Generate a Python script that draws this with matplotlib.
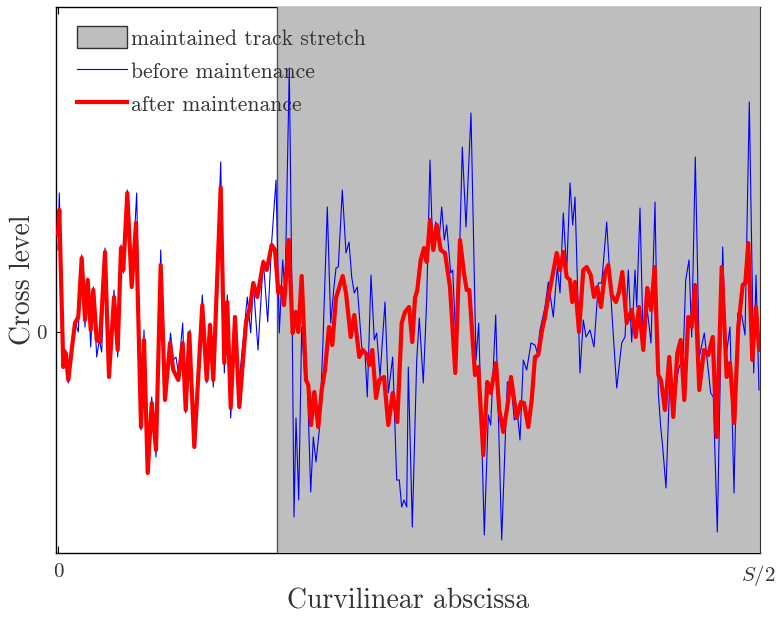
import matplotlib
matplotlib.use("Agg")
import matplotlib.pyplot as plt
from matplotlib.patches import Patch
from matplotlib.lines import Line2D

plt.rcParams['font.family'] = ['cmr10', 'DejaVu Serif']
plt.rcParams['mathtext.fontset'] = 'cm'
plt.rcParams['axes.unicode_minus'] = False
plt.rcParams['axes.formatter.use_mathtext'] = True

# abscissa (0 .. 700 = S/2) and cross level (arbitrary units)
before_x = [0, 1.3, 3, 5.3, 7.7, 10.3, 13.7, 17, 20.3, 23.7, 27, 29.7, 32.7, 35.3, 38.7, 41.3, 43.7, 47, 51, 56,
            59.7, 63, 65.3, 69.3, 73.7, 78.7, 83, 86, 89.7, 93.7, 98, 102.7, 107, 112.5, 115.3, 118, 120.3,
            124.7, 127.7, 132, 136.3, 144.3, 148.7, 152, 155.3, 162.7, 166.3, 169.3, 172.7, 177, 181.3,
            189.3, 192.7, 195.3, 200, 205.3, 209.7, 213.7, 218, 221.3, 224.7, 227, 231.3, 234, 236, 238,
            240.7, 243.7, 247, 249.3, 252.7, 255.3, 258, 261.3, 264.7, 269.3, 272.7, 276, 278, 280.3, 284.3,
            288, 291, 293.7, 296.3, 299.3, 303.7, 307, 309.3, 313, 316.3, 318.7, 322, 327, 330.3, 334.7,
            338.7, 341.3, 343.7, 346, 348.7, 350.3, 354.3, 358.7, 361.3, 365.3, 368.7, 372, 374.7, 377.7,
            381, 383.7, 386.3, 388.7, 392.7, 394.7, 398.7, 404.3, 408, 413, 418, 420.7, 426.3, 430.3, 432.7,
            437.7, 443.7, 449.3, 453, 456.3, 459.3, 462, 465.3, 468.7, 473, 477, 479.3, 482, 487, 490.3,
            495.3, 499.3, 502, 505.3, 508.7, 512, 514.7, 517, 522, 525.3, 528, 532, 536, 540.3, 543.7, 548.7,
            553.7, 558.7, 563.7, 567, 570.3, 573.7, 577, 578.7, 582, 585.3, 589.3, 593, 597, 600.3, 602.7,
            604.7, 608, 612, 615.3, 620.3, 622.7, 625.3, 627.7, 631, 633.7, 637.3, 641.3, 646.3, 652.7,
            655.3, 659.3, 664.7, 668, 672, 676, 679.7, 683.7, 687, 691.3, 695.7, 698, 701]
before_y = [8.2, 13.9, 7.2, -1.8, -1.8, -5.1, -1.8, 1.0, 0, 7.7, 0.5, 5.4, -1.5, 4.5, -2.5, -0.8, -2.0, 8.4, -4.5, 4.2,
            -2.5, 8.7, 5.9, 14.2, 4.5, 13.9, -9.8, 0.2, -14.1, -6.5, -12.5, 8.2, -6.8, -0.1, -2.8, -2.5, -4.1,
            0.9, -8.1, 0.2, -11.5, 3.7, -5.1, 0.9, -5.5, 17.0, -4.1, 3.7, -8.6, 0.9, -4.8,
            3.5, -0.1, 4.9, -1.8, 7.2, 1.0, 9.0, 15.2, -0.1, 7.2, 3.9, 26.4, 3.2, -18.5, -8.6,
            -16.8, 0.5, -4.8, -4.8, -16.0, -10.5, -13.0, -9.8, -1.8, 12.5, 0.9, 4.5, 6.4, 6.5, 14.2,
            7.9, 9.0, 5.5, 3.9, 4.5, -1.5, -2.1, -6.5, 5.7, -0.8, -0.1, -4.5, 3.0, -6.1, -2.5,
            -14.8, -14.8, -17.5, -16.8, -17.5, -3.5, -19.5, -2.8, 1.4, -5.1, 3.2, 17.2, 8.2, 11.0,
            9.2, 12.5, 9.2, 10.7, 5.9, 6.2, -2.8, 18.5, 10.5, 21.9, -2.8, 0.9, -20.3, -8.3, -9.3,
            1.7, -20.8, -5.0, -5.1, -8.8, -8.1, -10.8, -2.8, -3.8, -1.1, -1.3, -2.1, 0.2, 2.5, 5.0,
            1.5, 6.5, 3.9, 11.9, 6.0, 14.9, 10.7, 13.5, -4.1, 1.2, -0.5, 0.2, -1.5, 4.9, 4.9, 11.0,
            2.2, -5.6, -1.1, -0.5, 6.2, -1.0, 6.2, 2.5, 12.4, -1.8, 2.2, -1.1, 13.0, -6.1, -9.5,
            -11.5, -15.6, -4.1, -8.1, -3.8, -3.1, -2.1, 5.2, 7.2, -0.5, 17.5, -2.5, -0.1, -6.1,
            -6.5, -20.0, 8.5, -2.5, 0.5, -16.1, 1.9, 1.7, -0.3, 23.0, -4.1, 5.7, -5.8]

after_x = [0, 1.3, 5.3, 7.7, 10.3, 13.7, 17, 20.3, 23.7, 27, 29.7, 32.7, 35.3, 38.7, 42, 47, 51, 56, 59.7, 63,
           65.3, 69.3, 73.7, 78, 83, 86, 89.7, 93.7, 98, 102.7, 107, 112, 115.3, 120.3, 124.7, 127.7, 131.3,
           136.3, 144.3, 148.7, 152, 155.3, 162.7, 166.3, 169.3, 172.7, 177, 181.3, 188, 192, 195.3, 199.3,
           205.3, 208.7, 213.7, 217, 220.3, 223, 226, 230.7, 234.7, 237.7, 240.3, 243.7, 248, 250.3, 253,
           256.3, 260.3, 263.7, 267, 271, 274.3, 278, 281.3, 284.7, 288, 292.7, 296.3, 301.3, 304.7, 309.3,
           311.3, 314.3, 318, 321.3, 326, 330.3, 334.7, 339.3, 343.7, 347, 351, 354.3, 357, 359.3, 362.7,
           366, 368.7, 372, 375.3, 378.7, 382.7, 387, 392, 397.3, 402, 406, 408.7, 411.3, 417, 420.3, 425.3,
           429.3, 432.7, 438, 441.3, 445.3, 449.3, 453, 458.7, 463, 466, 470.3, 473.7, 477, 480.3, 483.7,
           487, 490.3, 493.7, 498.7, 502, 505.3, 508.7, 512, 514.3, 517, 521, 525.3, 528.7, 532.7, 536,
           539.3, 543, 547, 550.3, 553.7, 558, 561, 564.3, 568.7, 573.7, 577.7, 581, 585.3, 589.3, 593,
           596.7, 600.3, 603, 607, 611.3, 615.3, 619.3, 622.7, 626.3, 630.3, 633.7, 637, 641.3, 646, 650.3,
           654.7, 658.7, 663.7, 668.7, 672, 676.3, 680.3, 684.7, 687.3, 690.3, 694.3, 698, 701]
after_y = [9.7, 12.2, -3.5, -2.1, -4.8, -1.8, 0.9, 1.5, 7.4, 1.2, 5.2, 0.2, 4.2, -0.8, -1.0, 8.0, -4.5, 3.5, -1.8, 8.4,
           6.2, 13.9, 4.5, 10.9, -9.5, -0.8, -14.1, -7.1, -11.8, 6.7, -6.8, -1.1, -3.8, -4.8, -1.1, -7.8, -0.1,
           -11.5, 2.7, -4.8, 0.7, -4.8, 14.5, -3.1, 3.0, -7.6, 1.5, -7.5, 0.9, 2.5, 4.9, 3.5,
           7.0, 6.2, 8.7, 8.2, 3.9, 4.5, 2.7, 9.2, -0.1, 2.0, 0, 5.6, -4.8, -5.3, -9.3,
           -6.0, -9.5, -5.8, -3.8, 0.5, -1.3, 3.4, 4.5, 5.6, 3.9, -0.5, 1.7, -2.5, -1.8, -2.3,
           -3.3, -1.8, -6.6, -4.8, -4.5, -9.3, -6.1, -9.0, 0.9, 2.0, 2.5, -1.0, 3.4, 4.2, 7.2,
           8.4, 7.0, 11.2, 8.2, 10.7, 8.2, 7.9, 4.5, -4.1, 9.2, 5.9, 4.2, 4.2, -4.3, -3.5, -12.3,
           -5.0, -6.1, -3.1, -7.8, -10.0, -7.5, -4.5, -8.6, -7.0, -7.1, -9.5, -6.8, -2.5, -2.3, 0,
           1.5, 3.5, 5.2, 7.9, 6.2, 8.0, 5.5, 5.2, 3.0, 5.0, 0, 6.2, 6.5, 5.7, 3.5,
           4.5, 2.5, 5.9, 6.7, 3.7, 3.0, 4.0, 6.0, 0.9, 2.2, -0.5, 2.5, -1.8, 4.4, 2.2,
           6.5, -4.3, -4.8, -7.8, -2.5, -8.5, -2.1, -0.8, -6.8, 1.5, 0.5, 4.7, -5.8, -1.8, -2.3,
           -0.5, -10.5, 6.5, -4.5, -3.1, -9.1, 0.5, 4.7, 4.9, 8.9, -2.8, 2.5, -1.8]

stretch_start = 219
x_ticks = [0, 700]
x_tick_labels = ['0', '$S/2$']
y_ticks = [0]
y_tick_labels = ['0']

fig = plt.figure(figsize=(7.79, 6.17), dpi=100)
ax = fig.add_axes([56/779, 1 - 553/617, (760 - 56)/779, (553 - 7)/617])

gray = '#bebebe'
ax.axvspan(stretch_start, 702, facecolor=gray, edgecolor='none', zorder=2.6)
ax.axvline(stretch_start, color='#555555', lw=1.0, zorder=2.7)

ax.plot(before_x, before_y, color='#0000ff', lw=0.8, zorder=3, solid_joinstyle='round')
ax.plot(after_x, after_y, color='#ff0000', lw=3.0, zorder=4, solid_joinstyle='round',
        solid_capstyle='round')

ax.set_xlim(-2, 702)
ax.set_ylim(-22.1, 32.5)
for s in ['left', 'top', 'bottom']:
    ax.spines[s].set_linewidth(1.0)
    ax.spines[s].set_zorder(2.5)
ax.spines['right'].set_zorder(2.8)
ax.spines['right'].set_color('#333333')

ax.set_xticks(x_ticks)
ax.set_xticklabels(x_tick_labels)
ax.set_yticks(y_ticks)
ax.set_yticklabels(y_tick_labels)
ax.tick_params(direction='in', length=5, width=0.8, top=True, right=True, labelsize=15,
               labelcolor='#333333', pad=7)

ax.set_xlabel('Curvilinear abscissa', fontsize=20, color='#333333', labelpad=0)
ax.set_ylabel('Cross level', fontsize=20, color='#333333', labelpad=-0.8)

handles = [Patch(facecolor=gray, edgecolor='#333333', linewidth=1.0),
           Line2D([], [], color='#0000ff', lw=0.8),
           Line2D([], [], color='#ff0000', lw=3.0)]
labels = ['maintained track stretch', 'before maintenance', 'after maintenance']
leg = ax.legend(handles, labels, loc='upper left', bbox_to_anchor=(0.030, 0.965),
                frameon=False, fontsize=15.6, handlelength=2.3, handleheight=1.2,
                handletextpad=0.2, labelspacing=0.51, borderpad=0.0, borderaxespad=0.0)
for t in leg.get_texts():
    t.set_color('#333333')
leg.set_zorder(5)

fig.savefig('out.png', dpi=100)
